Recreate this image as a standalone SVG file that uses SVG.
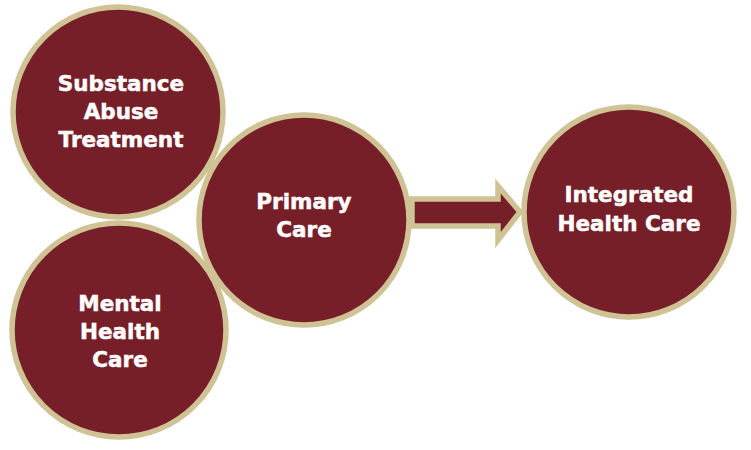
<svg xmlns="http://www.w3.org/2000/svg" width="751" height="450" viewBox="0 0 751 450">
<style>
.c{fill:#771f29;stroke:#cfc396;stroke-width:5.5}
.t{fill:#ffffff;stroke:#ffffff;stroke-width:0.5;font-family:"DejaVu Sans",Verdana,sans-serif;font-weight:bold;font-size:21.5px;text-anchor:middle}
</style>
<rect width="751" height="450" fill="#ffffff"/>
<g id="substance">
<circle class="c" cx="118" cy="112" r="105"/>
<text class="t" x="121" y="91">Substance</text>
<text class="t" x="121" y="119">Abuse</text>
<text class="t" x="121" y="147">Treatment</text>
</g>
<g id="mental">
<circle class="c" cx="119" cy="330" r="107"/>
<text class="t" x="120" y="311">Mental</text>
<text class="t" x="120" y="339">Health</text>
<text class="t" x="120" y="367">Care</text>
</g>
<g id="primary">
<circle class="c" cx="304" cy="220" r="105"/>
<text class="t" x="304" y="209">Primary</text>
<text class="t" x="304" y="237">Care</text>
</g>
<g id="connectors">
<path class="c" stroke-width="4.5" stroke-linejoin="miter" d="M412,199 L498,199 L498,186 L520,212 L498,240 L498,226 L412,226 Z"/>
</g>
<g id="integrated">
<circle class="c" cx="629" cy="212" r="105"/>
<text class="t" x="629" y="202">Integrated</text>
<text class="t" x="629" y="231">Health Care</text>
</g>
</svg>
